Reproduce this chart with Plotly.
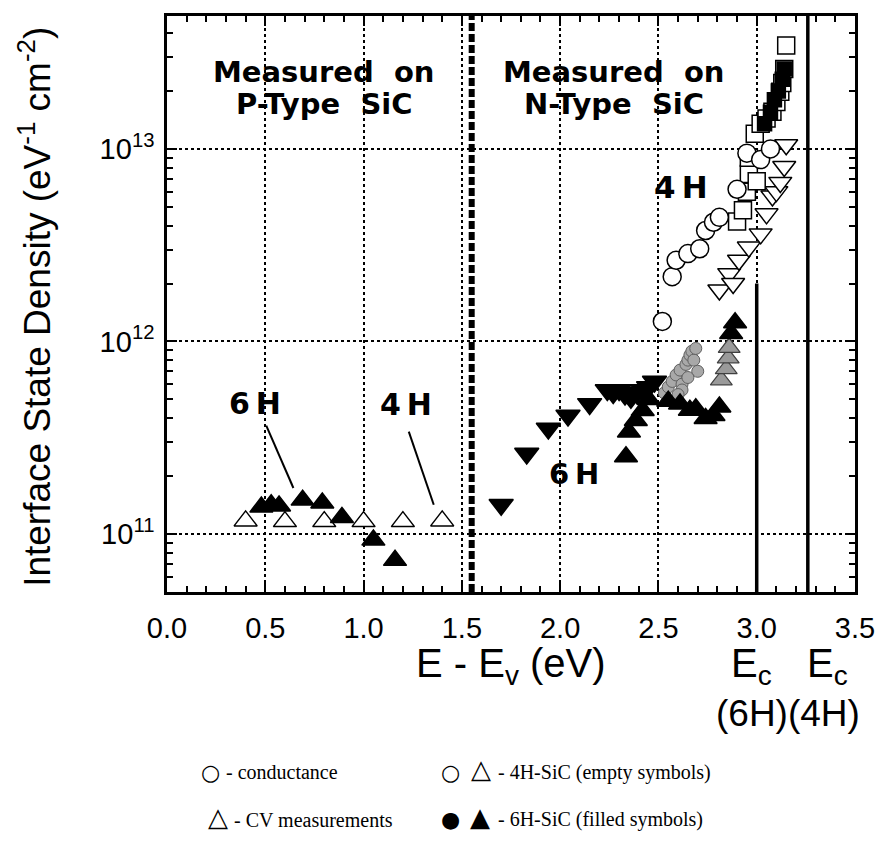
import plotly.graph_objects as go
import numpy as np

# ---------------- data ----------------
# P-type region
p4h_cv_x = [0.40, 0.60, 0.80, 1.00, 1.20, 1.40]
p4h_cv_y = [1.17e11, 1.16e11, 1.16e11, 1.16e11, 1.16e11, 1.17e11]

p6h_cv_x = [0.48, 0.53, 0.57, 0.69, 0.79, 0.89, 1.05, 1.16]
p6h_cv_y = [1.38e11, 1.42e11, 1.40e11, 1.50e11, 1.45e11, 1.22e11, 9.3e10, 7.3e10]

# N-type region, 6H (filled symbols)
n6h_down_x = [1.70, 1.83, 1.94, 2.04, 2.15, 2.24, 2.27, 2.30, 2.33, 2.36, 2.39, 2.42, 2.45, 2.48]
n6h_down_y = [1.42e11, 2.62e11, 3.53e11, 4.13e11, 4.74e11, 5.6e11, 5.4e11, 5.6e11, 5.3e11, 5.1e11, 5.4e11, 5.6e11, 5.8e11, 6.2e11]

n6h_up_x = [2.335, 2.35, 2.385, 2.42, 2.45, 2.55, 2.61, 2.66, 2.69, 2.74, 2.78, 2.81, 2.87, 2.89]
n6h_up_y = [2.52e11, 3.39e11, 3.89e11, 4.38e11, 5.0e11, 4.9e11, 4.74e11, 4.4e11, 4.47e11, 3.98e11, 4.13e11, 4.57e11, 1.1e12, 1.25e12]

n6h_up_gray_x = [2.82, 2.845, 2.855, 2.86]
n6h_up_gray_y = [6.3e11, 7.2e11, 8.2e11, 9.3e11]

n6h_cond_x = [2.53, 2.55, 2.57, 2.59, 2.61, 2.62, 2.64, 2.65, 2.66, 2.67, 2.68, 2.69, 2.70, 2.62, 2.60, 2.65]
n6h_cond_y = [5.4e11, 5.8e11, 6.2e11, 6.7e11, 7.1e11, 6.0e11, 7.6e11, 8.0e11, 8.5e11, 8.9e11, 8.0e11, 9.2e11, 7.0e11, 5.6e11, 5.3e11, 6.5e11]

# N-type region, 4H (empty symbols)
n4h_cond_x = [2.52, 2.57, 2.59, 2.65, 2.71, 2.74, 2.78, 2.81, 2.90, 2.95, 3.02, 3.07]
n4h_cond_y = [1.27e12, 2.17e12, 2.64e12, 2.86e12, 3.03e12, 3.77e12, 4.16e12, 4.41e12, 6.17e12, 9.5e12, 8.8e12, 1.0e13]

n4h_sq_x = [2.90, 2.93, 2.95, 2.96, 3.00, 2.96, 2.99, 3.02, 3.05, 3.08, 3.10, 3.12, 3.13, 3.14, 3.15]
n4h_sq_y = [4.2e12, 4.8e12, 6.0e12, 7.4e12, 6.8e12, 9.0e12, 1.2e13, 1.35e13, 1.44e13, 1.56e13, 1.75e13, 1.98e13, 2.2e13, 2.6e13, 3.44e13]

n6h_sq_x = [3.04, 3.07, 3.09, 3.11, 3.13, 3.14]
n6h_sq_y = [1.35e13, 1.55e13, 1.8e13, 2.0e13, 2.3e13, 2.6e13]

n4h_down_x = [2.81, 2.86, 2.88, 2.91, 2.96, 3.02, 3.05, 3.08, 3.10, 3.12, 3.14, 3.15]
n4h_down_y = [1.85e12, 2.25e12, 2.0e12, 2.64e12, 3.09e12, 3.62e12, 4.6e12, 5.7e12, 6.0e12, 6.7e12, 8.1e12, 1.05e13]

# reference lines (eV)
BOUNDARY = 1.55
EC_6H = 3.00
EC_4H = 3.26
EC_6H_TOP = 2.0e12

X_RANGE = [0.0, 3.5]
Y_RANGE = [5e10, 4.9e13]
Y_TICKS = [1e11, 1e12, 1e13]
Y_TICKTEXT = ["10<sup>11</sup>", "10<sup>12</sup>", "10<sup>13</sup>"]
Y_MINOR = [m * 10.0 ** e for e in (10, 11, 12, 13) for m in range(2, 10)]

fig = go.Figure()

def add(x, y, symbol, size, fill, line="black", lw=1.5):
    fig.add_trace(go.Scatter(x=x, y=y, mode="markers", showlegend=False,
                             marker=dict(symbol=symbol, size=size, color=fill,
                                         line=dict(color=line, width=lw))))

# reference lines
fig.add_trace(go.Scatter(x=[BOUNDARY, BOUNDARY], y=Y_RANGE, mode="lines", showlegend=False,
                         line=dict(color="black", width=6, dash="8px,3px")))
fig.add_trace(go.Scatter(x=[EC_6H, EC_6H], y=[Y_RANGE[0], EC_6H_TOP], mode="lines", showlegend=False,
                         line=dict(color="black", width=3.5)))
fig.add_trace(go.Scatter(x=[EC_4H, EC_4H], y=Y_RANGE, mode="lines", showlegend=False,
                         line=dict(color="black", width=3.5)))

# pointer lines
fig.add_trace(go.Scatter(x=[0.505, 0.643], y=[10**11.563, 10**11.239], mode="lines", showlegend=False,
                         line=dict(color="black", width=2)))
fig.add_trace(go.Scatter(x=[1.23, 1.357], y=[10**11.532, 10**11.152], mode="lines", showlegend=False,
                         line=dict(color="black", width=2)))

# markers
add(p4h_cv_x, p4h_cv_y, "triangle-up", 20, "white")
add(p6h_cv_x, p6h_cv_y, "triangle-up", 20, "black")
add(n6h_down_x, n6h_down_y, "triangle-down", 21, "black")
add(n6h_cond_x, n6h_cond_y, "circle", 12, "#a8a8a8", "#606060", 1)
add(n6h_up_gray_x, n6h_up_gray_y, "triangle-up", 19, "#9a9a9a", "#404040", 1.2)
add(n6h_up_x, n6h_up_y, "triangle-up", 20, "black")
add(n4h_down_x, n4h_down_y, "triangle-down", 20, "white")
add(n4h_sq_x, n4h_sq_y, "square", 17, "white")
add(n6h_sq_x, n6h_sq_y, "square", 14, "black")
add(n4h_cond_x, n4h_cond_y, "circle", 18, "white")

BOLD = "DejaVu Sans"
SANS = "Liberation Sans, Arial"
ann = []

def dtext(x, ylog, text, size):
    ann.append(dict(x=x, y=ylog, xref="x", yref="y", text="<b>" + text + "</b>", showarrow=False,
                    xanchor="center", yanchor="middle",
                    font=dict(family=BOLD, size=size, color="black")))

dtext(0.80, 13.40, "Measured  on", 29)
dtext(0.80, 13.235, "P-Type  SiC", 29)
dtext(2.275, 13.40, "Measured  on", 29)
dtext(2.275, 13.235, "N-Type  SiC", 29)
dtext(2.617, 12.80, "4\u2009H", 31)
dtext(2.07, 11.31, "6\u2009H", 29)
dtext(0.449, 11.68, "6\u2009H", 30)
dtext(1.214, 11.675, "4\u2009H", 30)

# paper-coordinate helpers (page pixel -> paper fraction)
def px(xp):
    return (xp - 167) / 690.0
def py(yp):
    return (592 - yp) / 579.0

def ptext(xp, yp, text, font, xanchor="center", angle=0):
    ann.append(dict(x=px(xp), y=py(yp), xref="paper", yref="paper", showarrow=False,
                    xanchor=xanchor, yanchor="middle", text=text, font=font, textangle=angle))

ptext(35, 305, "Interface State Density (eV<sup>-1</sup> cm<sup>-2</sup>)",
      dict(family=SANS, size=37, color="black"), angle=-90)
ptext(512, 666, "E - E<sub>v</sub> (eV)", dict(family=SANS, size=40, color="black"))
ptext(753, 666, "E<sub>c</sub>", dict(family=SANS, size=40, color="black"))
ptext(829, 666, "E<sub>c</sub>", dict(family=SANS, size=40, color="black"))
ptext(790, 714, "(6H)(4H)", dict(family=SANS, size=37, color="black"))

# bottom legend
serif = dict(family="Liberation Serif, Times New Roman", size=20, color="black")
sym = dict(family="DejaVu Sans", size=22, color="black")
sym_big = dict(family="DejaVu Sans", size=26, color="black")
ptext(211, 773, "○", sym)
ptext(224, 773, "- conductance", serif, "left")
ptext(218, 818, "△", sym_big)
ptext(232, 821, "- CV measurements", serif, "left")
ptext(451, 773, "○", sym)
ptext(482, 770, "△", sym_big)
ptext(497, 773, "- 4H-SiC (empty symbols)", serif, "left")
ptext(451, 821, "●", sym)
ptext(481, 818, "▲", sym_big)
ptext(497, 821, "- 6H-SiC (filled symbols)", serif, "left")

axis_common = dict(showline=True, linewidth=2.5, linecolor="black", mirror="allticks",
                   ticks="inside", tickcolor="black", tickwidth=2, ticklen=10,
                   showgrid=True, gridcolor="black", gridwidth=1.5, griddash="dot",
                   zeroline=False,
                   tickfont=dict(family=SANS, size=29, color="black"))

fig.update_layout(
    width=872, height=826,
    margin=dict(l=159, r=23, t=5, b=242),
    paper_bgcolor="white", plot_bgcolor="white",
    annotations=ann,
    xaxis=dict(range=X_RANGE, dtick=0.5, tick0=0, tickformat=".1f", ticklabelstandoff=8,
               minor=dict(dtick=0.1, ticks="inside", ticklen=6, tickwidth=1.5,
                          tickcolor="black", showgrid=False),
               **axis_common),
    yaxis=dict(type="log", range=[np.log10(Y_RANGE[0]), np.log10(Y_RANGE[1])],
               tickvals=Y_TICKS, ticktext=Y_TICKTEXT, ticklabelstandoff=4,
               minor=dict(tickvals=Y_MINOR, ticks="inside", ticklen=6, tickwidth=1.5,
                          tickcolor="black", showgrid=False),
               **axis_common),
)

fig.write_html("out.html")
